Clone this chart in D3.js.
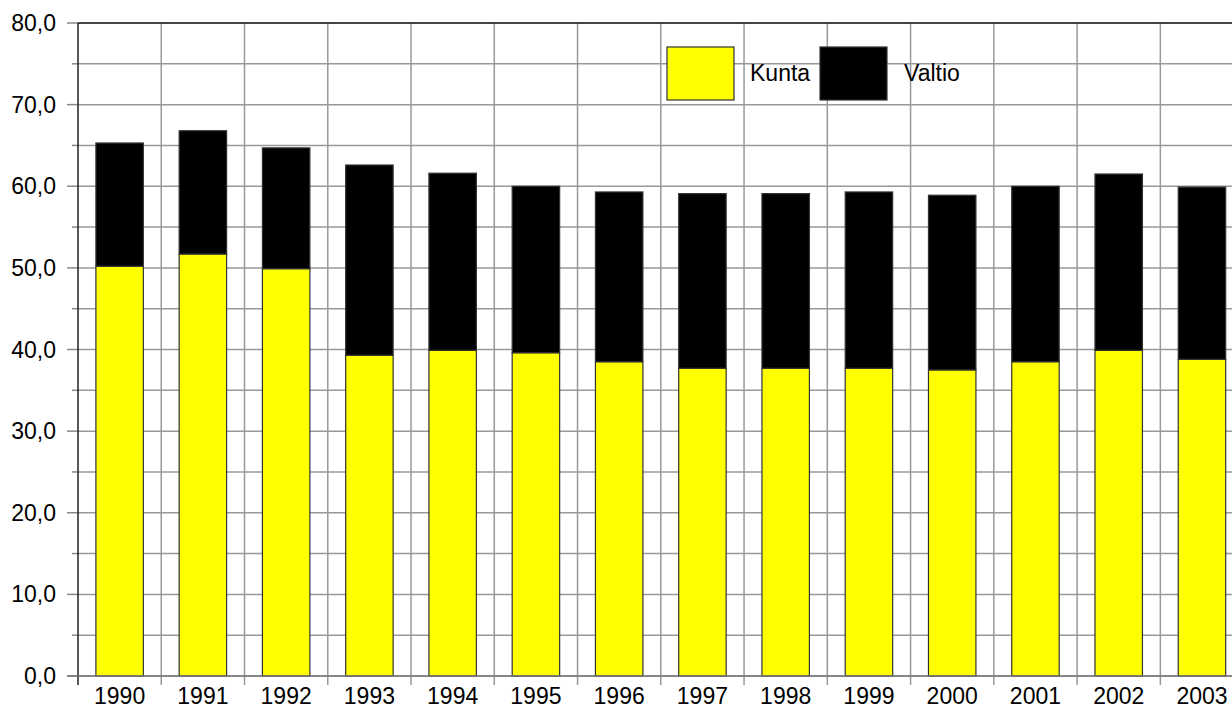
<!DOCTYPE html>
<html><head><meta charset="utf-8">
<script src="https://cdn.jsdelivr.net/npm/d3@7"></script>
<style>body{margin:0;background:#fff;} svg{display:block;} text{font-family:"Liberation Sans",Arial,sans-serif;}</style>
</head><body>
<svg id="c" width="1232" height="708"></svg>
<script>
const years = ["1990","1991","1992","1993","1994","1995","1996","1997","1998","1999","2000","2001","2002","2003"];
const kunta = [50.2,51.7,49.9,39.3,39.9,39.6,38.5,37.7,37.7,37.7,37.5,38.5,39.9,38.8];
const valtio = [15.1,15.1,14.8,23.3,21.7,20.4,20.8,21.4,21.4,21.6,21.4,21.5,21.6,21.1];
const seriesNames = ["Kunta","Valtio"];
const seriesColors = ["#ffff00","#000000"];
const yTicks = [0,10,20,30,40,50,60,70,80];
const yMinor = [5,15,25,35,45,55,65,75];

(function(){
const svg = d3.select("#c");
const mLeft = 78, mTop = 23, mBottom = 676, mRight = 1243.6;
const x = d3.scaleBand().domain(years).range([mLeft, mRight]).paddingInner(0).paddingOuter(0);
const y = d3.scaleLinear().domain([0,80]).range([mBottom, mTop]);
const fmt = v => d3.format(".1f")(v).replace(".", ",");

const g = svg.append("g");
g.selectAll("line.h").data(yTicks.concat(yMinor)).join("line")
  .attr("x1", mLeft).attr("x2", 1232).attr("y1", d => y(d)).attr("y2", d => y(d))
  .attr("stroke", "#999").attr("stroke-width", 1.5);
const bounds = years.map(d => x(d)).slice(1);
g.selectAll("line.v").data(bounds).join("line")
  .attr("x1", d => d).attr("x2", d => d).attr("y1", mTop).attr("y2", mBottom + 9)
  .attr("stroke", "#999").attr("stroke-width", 1.5);

g.selectAll("line.yt").data(yTicks).join("line")
  .attr("x1", mLeft - 11).attr("x2", mLeft).attr("y1", d => y(d)).attr("y2", d => y(d))
  .attr("stroke", "#888").attr("stroke-width", 1.5);
g.selectAll("line.ym").data(yMinor).join("line")
  .attr("x1", mLeft - 6).attr("x2", mLeft).attr("y1", d => y(d)).attr("y2", d => y(d))
  .attr("stroke", "#888").attr("stroke-width", 1.5);

const stackData = years.map((yr, i) => ({year: yr, Kunta: kunta[i], Valtio: valtio[i]}));
const stacked = d3.stack().keys(seriesNames)(stackData);
const bw = x.bandwidth() * 0.57;
svg.append("g").selectAll("g").data(stacked).join("g")
  .attr("fill", (d, i) => seriesColors[i])
  .selectAll("rect").data(d => d).join("rect")
  .attr("x", d => x(d.data.year) + (x.bandwidth() - bw) / 2)
  .attr("width", bw)
  .attr("y", d => y(d[1]))
  .attr("height", d => y(d[0]) - y(d[1]))
  .attr("stroke", "#333").attr("stroke-width", 1.2);

svg.append("line").attr("x1", mLeft).attr("x2", mLeft).attr("y1", mTop).attr("y2", mBottom + 9)
  .attr("stroke", "#222").attr("stroke-width", 1.5);
svg.append("line").attr("x1", mLeft).attr("x2", 1232).attr("y1", mTop).attr("y2", mTop)
  .attr("stroke", "#222").attr("stroke-width", 1.5);
svg.append("line").attr("x1", mLeft - 11).attr("x2", 1232).attr("y1", mBottom).attr("y2", mBottom)
  .attr("stroke", "#777").attr("stroke-width", 1.5);

svg.append("g").selectAll("text").data(yTicks).join("text")
  .attr("x", 56).attr("y", d => y(d) + 8).attr("text-anchor", "end")
  .attr("font-size", 23).attr("fill", "#000").text(d => fmt(d));
svg.append("g").selectAll("text").data(years).join("text")
  .attr("x", d => x(d) + x.bandwidth() / 2).attr("y", 704).attr("text-anchor", "middle")
  .attr("font-size", 23).attr("fill", "#000").text(d => d);

const leg = svg.append("g");
const legX = [667, 820], legTextX = [750, 904];
seriesNames.forEach((n, i) => {
  leg.append("rect").attr("x", legX[i]).attr("y", 47).attr("width", 67).attr("height", 53)
    .attr("fill", seriesColors[i]).attr("stroke", "#333").attr("stroke-width", 1.2);
  leg.append("text").attr("x", legTextX[i]).attr("y", 81).attr("font-size", 23)
    .attr("fill", "#000").text(n);
});
})();
</script>
</body></html>
